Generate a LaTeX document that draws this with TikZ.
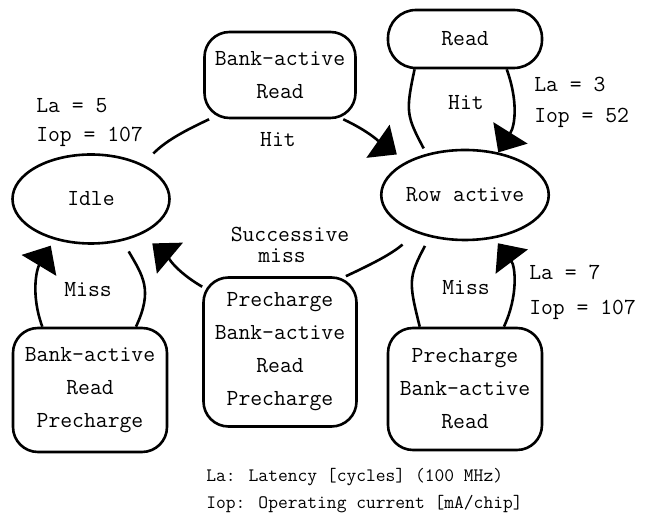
\documentclass[tikz,border=0pt]{standalone}
\usepackage{tikz}
\usetikzlibrary{arrows.meta,shapes.geometric}

\begin{document}
\begin{tikzpicture}[x=1pt,y=1pt,line width=2.6pt,
    font=\fontsize{23}{33}\selectfont\ttfamily,
    phase/.style={draw,ellipse,inner sep=0pt},
    box/.style={draw,rounded corners=25pt,align=center,inner sep=0pt},
    side/.style={inner sep=0pt,anchor=base west},
    edgelabel/.style={inner sep=0pt,anchor=base},
    link/.style={-{Triangle[length=23pt,width=40pt]}}]
	%%%%% START %%%%%
	\useasboundingbox (0,0) rectangle (649,519);
	
	% states
	\node[phase,minimum width=157pt,minimum height=89pt] (idle) at (91,320) {Idle};
	\node[phase,minimum width=154pt,minimum height=90pt] (rowact) at (465,324) {Row active};
	
	% command sequences
	\node[box,minimum width=151pt,minimum height=86pt] (bar) at (280,444) {Bank-active\\Read};
	\node[box,rounded corners=28pt,minimum width=154pt,minimum height=58pt] (rd) at (465,480) {Read};
	\node[box,minimum width=154pt,minimum height=124pt] (barp) at (90,129) {Bank-active\\Read\\Precharge};
	\node[box,minimum width=153pt,minimum height=149pt] (pbarp) at (280,167) {Precharge\\Bank-active\\Read\\Precharge};
	\node[box,minimum width=154pt,minimum height=122pt] (pbar) at (465,130) {Precharge\\Bank-active\\Read};
	
	% idle -> row active
	\draw[shorten <=15pt] (idle.34) to[out=45,in=-155] (bar.-148);
	\draw[link,shorten >=12pt] (bar.-35) to[out=-25,in=145] (rowact.150);
	
	% hit loop
	\draw[shorten <=6pt] (rowact.133) to[out=118,in=-102,looseness=1.3] (rd.-149);
	\draw[link] (rd.-36) to[out=-70,in=58] (rowact.52);
	
	% miss loop on idle
	\draw[shorten <=12pt] (idle.-53) to[out=-60,in=65,looseness=1.2] (barp.54);
	\draw[link,shorten >=7pt] (barp.127) to[out=110,in=-121] (idle.-132);
	
	% successive miss
	\draw[shorten <=18pt] (rowact.-142) to[out=-140,in=25] (pbarp.49);
	\draw[link,shorten >=14pt] (pbarp.140) to[out=150,in=-40] (idle.-35);
	
	% miss loop on row active
	\draw[shorten <=10pt] (rowact.-130) to[out=-118,in=104,looseness=1.3] (pbar.126);
	\draw[link,shorten >=6pt] (pbar.58) to[out=65,in=-53] (rowact.-56);
	
	% labels
	\node[side] (la5) at (35,406) {La = 5};
	\node[side] (iop5) at (35,377) {Iop = 107};
	\node[edgelabel] (hit1) at (278,372) {Hit};
	\node[edgelabel] (hit2) at (466,409) {Hit};
	\node[side] (la3) at (533,427) {La = 3};
	\node[side] (iop3) at (533,396) {Iop = 52};
	\node[edgelabel] (succ) at (290,277) {Successive};
	\node[edgelabel] (succm) at (282,256) {miss};
	\node[edgelabel] (miss1) at (88,222) {Miss};
	\node[edgelabel] (miss2) at (466,224) {Miss};
	\node[side] (la7) at (528,239) {La = 7};
	\node[side] (iop7) at (528,204) {Iop = 107};
	
	% legend
	\node[side,font=\fontsize{19}{24}\selectfont\ttfamily] (keyla) at (205,37) {La: Latency [cycles] (100 MHz)};
	\node[side,font=\fontsize{19}{24}\selectfont\ttfamily] (keyiop) at (205,10) {Iop: Operating current [mA/chip]};
	%%%%% END %%%%%
\end{tikzpicture}
\end{document}
